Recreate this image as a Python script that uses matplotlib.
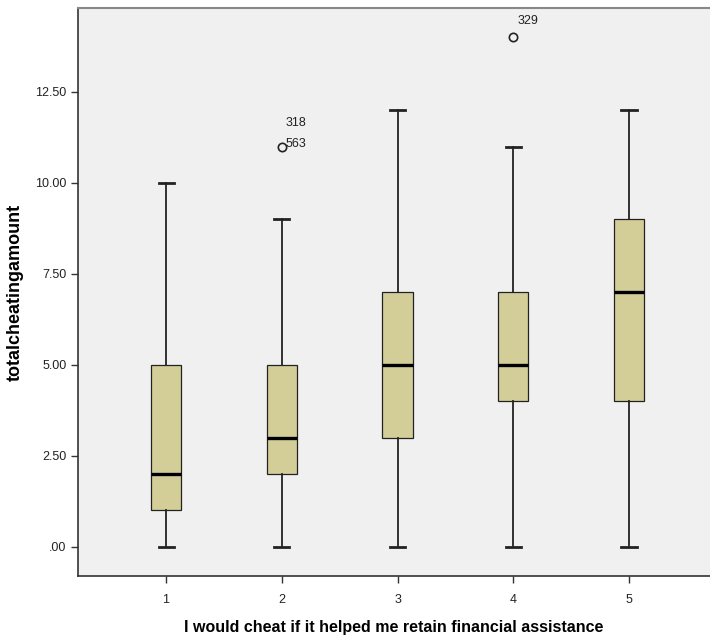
import matplotlib
matplotlib.use("Agg")
import matplotlib.pyplot as plt

# five-number summaries
groups = ["1", "2", "3", "4", "5"]
whislo = [0, 0, 0, 0, 0]
q1 = [1, 2, 3, 4, 4]
med = [2, 3, 5, 5, 7]
q3 = [5, 5, 7, 7, 9]
whishi = [10, 9, 12, 11, 12]
fliers = [[], [11], [], [14], []]
flier_ids = [[], [["563", "318"]], [], [["329"]], []]

yticks = [0, 2.5, 5, 7.5, 10, 12.5]
ytick_labels = [".00", "2.50", "5.00", "7.50", "10.00", "12.50"]

plt.rcParams['font.family'] = ['Liberation Sans', 'DejaVu Sans']

fig = plt.figure(figsize=(7.10, 6.37), dpi=100)
ax = fig.add_axes([0.11, 0.096, 0.89, 0.891])
ax.set_facecolor('#f0f0f0')

stats = []
for i, g in enumerate(groups):
    stats.append(dict(label=g, whislo=whislo[i], q1=q1[i], med=med[i],
                      q3=q3[i], whishi=whishi[i], fliers=fliers[i]))

positions = list(range(1, len(groups) + 1))
ax.bxp(stats, positions=positions, widths=0.26, patch_artist=True,
       boxprops=dict(facecolor='#d3ce98', edgecolor='#222222', linewidth=0.9),
       medianprops=dict(color='black', linewidth=2.4),
       whiskerprops=dict(color='#222222', linewidth=1.3),
       capprops=dict(color='#222222', linewidth=2.0),
       capwidths=0.13,
       flierprops=dict(marker='o', markerfacecolor='none', markeredgecolor='#222222',
                       markersize=6, markeredgewidth=1.2))

# outlier case labels (SPSS style: first id beside the point, rest stacked above)
for i, ids in enumerate(flier_ids):
    for val, labs in zip(fliers[i], ids):
        if len(labs) > 1:
            offs = [(3, 2 + 15 * k) for k in range(len(labs))]
        else:
            offs = [(3, 12)]
        for lab, off in zip(labs, offs):
            ax.annotate(lab, (positions[i], val), xytext=off, textcoords='offset points',
                        ha='left', va='center', fontsize=9, color='#222222')

ax.set_xlim(0.24, 5.70)
ax.set_ylim(-0.8, 14.8)
ax.set_yticks(yticks)
ax.set_yticklabels(ytick_labels)
ax.set_xticks(positions)
ax.set_xticklabels(groups)
ax.tick_params(axis='both', labelsize=9, length=5, width=1, color='#333333', labelcolor='#222222')
ax.tick_params(axis='x', pad=8)

for side in ['left', 'bottom']:
    ax.spines[side].set_color('#333333')
    ax.spines[side].set_linewidth(1.2)
ax.spines['top'].set_color('#888888')
ax.spines['top'].set_linewidth(1.5)
ax.spines['right'].set_visible(False)

ax.set_ylabel('totalcheatingamount', fontsize=13, fontweight='bold', labelpad=8)
ax.set_xlabel('I would cheat if it helped me retain financial assistance',
              fontsize=11.5, fontweight='bold', labelpad=10)

fig.savefig('out.png', dpi=100, facecolor='white')
